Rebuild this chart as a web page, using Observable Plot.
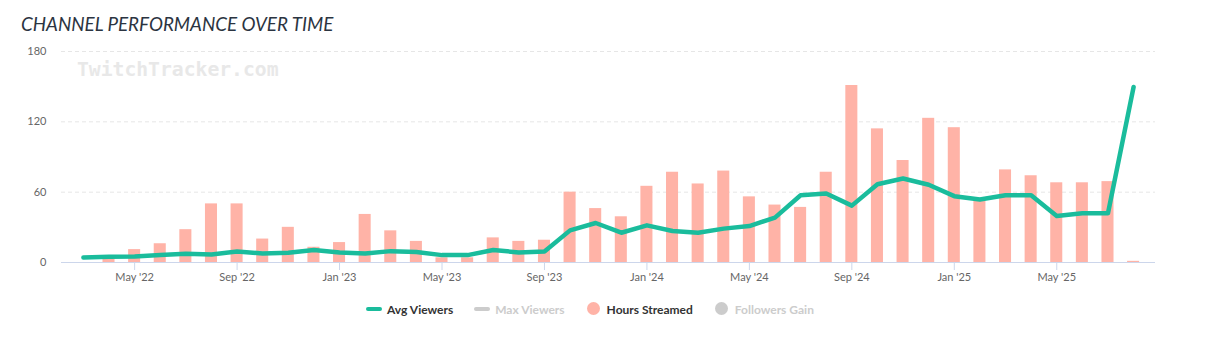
<!DOCTYPE html>
<html><head><meta charset="utf-8">
<script src="https://cdn.jsdelivr.net/npm/d3@7"></script>
<script src="https://cdn.jsdelivr.net/npm/@observablehq/plot@0.6"></script>
<style>
body{margin:0;background:#fff;font-family:Lato,sans-serif;}
#wrap{position:relative;width:1221px;height:350px;overflow:hidden;background:#fff;}
#title{position:absolute;left:21px;top:14px;font-style:italic;font-size:18.8px;line-height:20px;color:#2b3441;white-space:nowrap;}
#chart{position:absolute;left:0;top:40px;}
#wm{position:absolute;left:77px;top:60px;font-family:"DejaVu Sans Mono",monospace;font-weight:bold;font-size:19.7px;line-height:20px;color:#e8e8e8;white-space:nowrap;}
#legend{position:absolute;left:366px;top:302px;height:14px;display:flex;align-items:center;font-family:Lato,sans-serif;font-weight:bold;font-size:12px;white-space:nowrap;}
.item{display:flex;align-items:center;margin-right:21px;}
.sym{width:16px;height:14px;margin-right:5px;position:relative;}
.ln{position:absolute;left:0;top:5px;width:16px;height:4px;border-radius:2px;}
.dot{position:absolute;left:1px;top:0px;width:13px;height:13px;border-radius:50%;}
</style>
</head><body>
<div id="wrap">
  <div id="title">CHANNEL PERFORMANCE OVER TIME</div>
  <div id="chart"></div>
  <div id="wm">TwitchTracker.com</div>
  <div id="legend"></div>
</div>
<script>
const months = ["2022-03","2022-04","2022-05","2022-06","2022-07","2022-08","2022-09","2022-10","2022-11","2022-12",
  "2023-01","2023-02","2023-03","2023-04","2023-05","2023-06","2023-07","2023-08","2023-09","2023-10","2023-11","2023-12",
  "2024-01","2024-02","2024-03","2024-04","2024-05","2024-06","2024-07","2024-08","2024-09","2024-10","2024-11","2024-12",
  "2025-01","2025-02","2025-03","2025-04","2025-05","2025-06","2025-07","2025-08"];
const hoursStreamed = [0,3,11,16,28,50,50,20,30,13,
  17,41,27,18,4,4,21,18,19,60,46,39,
  65,77,67,78,56,49,47,77,151,114,87,123,
  115,53,79,74,68,68,69,1];
const avgViewers = [4.3,5,5.1,6.3,7.4,6.9,9.4,7.7,8.3,10.6,
  8.6,7.7,9.7,8.9,6.3,6.3,10.6,8.6,9.4,27.4,33.7,25.4,
  31.7,26.9,25.4,28.9,31.1,38.3,57.4,58.8,48.5,66.8,71.7,66.3,
  56.6,53.7,57.4,57.4,39.7,42,42,149.7];
const tickMonths = ["2022-05","2022-09","2023-01","2023-05","2023-09","2024-01","2024-05","2024-09","2025-01","2025-05"];
const tickLabels = ["May '22","Sep '22","Jan '23","May '23","Sep '23","Jan '24","May '24","Sep '24","Jan '25","May '25"];
const yTicks = [0,60,120,180];
const legendItems = [
  {name:"Avg Viewers", color:"#1abc9c", text:"#333", kind:"line"},
  {name:"Max Viewers", color:"#cccccc", text:"#cccccc", kind:"line"},
  {name:"Hours Streamed", color:"#ffb3a7", text:"#333", kind:"dot"},
  {name:"Followers Gain", color:"#cccccc", text:"#cccccc", kind:"dot"}
];

const data = months.map((m,i)=>({month:m, hours:hoursStreamed[i], avg:avgViewers[i]}));
const tickLabel = new Map(tickMonths.map((m,i)=>[m,tickLabels[i]]));

const chart = Plot.plot({
  width:1221, height:250, marginLeft:61, marginRight:66, marginTop:11, marginBottom:28,
  style:{fontFamily:"Lato, sans-serif", fontSize:"11px", color:"#666", background:"transparent", overflow:"visible"},
  x:{type:"band", domain:months, paddingInner:0.53, paddingOuter:0.62, round:false, label:null},
  y:{domain:[0,180], label:null},
  marks:[
    Plot.gridY([60,120,180], {stroke:"#e6e6e6", strokeOpacity:1, strokeDasharray:"4,3"}),
    Plot.barY(data, {x:"month", y:"hours", fill:"#ffb3a7"}),
    Plot.ruleY([0], {stroke:"#ccd6eb"}),
    Plot.lineY(data, {x:"month", y:"avg", stroke:"#1abc9c", strokeWidth:4.5, strokeLinejoin:"round", strokeLinecap:"round"}),
    Plot.axisX(tickMonths, {tickFormat:d=>tickLabel.get(d), tickSize:8, tickPadding:3, stroke:"#ccd6eb", strokeOpacity:1, color:"#666", label:null}),
    Plot.axisY(yTicks, {tickSize:0, tickPadding:15, label:null, color:"#666"})
  ]
});
document.getElementById("chart").appendChild(chart);

const legend = document.getElementById("legend");
for (const it of legendItems) {
  const item = document.createElement("div"); item.className = "item";
  const sym = document.createElement("div"); sym.className = "sym";
  const mk = document.createElement("div"); mk.className = it.kind === "line" ? "ln" : "dot";
  mk.style.background = it.color; sym.appendChild(mk);
  const t = document.createElement("span"); t.textContent = it.name; t.style.color = it.text;
  item.appendChild(sym); item.appendChild(t); legend.appendChild(item);
}
</script>
</body></html>
